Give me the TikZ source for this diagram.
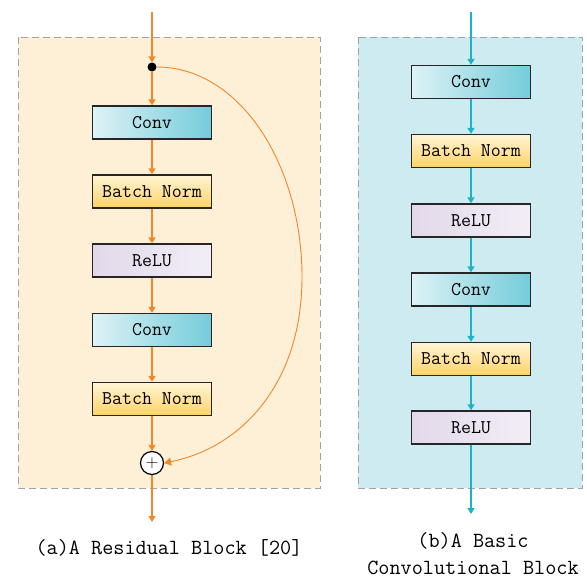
\documentclass[tikz,border=0pt]{standalone}
\usetikzlibrary{arrows.meta}
\definecolor{flowO}{HTML}{F0872A}
\definecolor{flowC}{HTML}{1CB3C6}
\definecolor{panelO}{HTML}{FDF0D6}
\definecolor{panelC}{HTML}{CDEBF1}
\definecolor{edgeG}{HTML}{A3A3A3}
\definecolor{convL}{HTML}{DDF2F6}
\definecolor{convR}{HTML}{74CCDA}
\definecolor{bnT}{HTML}{FFF5D6}
\definecolor{bnB}{HTML}{FFD265}
\definecolor{reluL}{HTML}{E2D8EA}
\definecolor{reluR}{HTML}{F2EEF6}
\tikzset{
  panel/.style={draw=edgeG, line width=1pt, dash pattern=on 7pt off 4pt},
  layer/.style={draw=black!85, line width=1.3pt, minimum width=119pt, minimum height=33pt,
                inner sep=0pt, font=\ttfamily\fontsize{19.4}{21}\selectfont},
  convbox/.style={layer, left color=convL, right color=convR},
  bnbox/.style={layer, top color=bnT, bottom color=bnB},
  relubox/.style={layer, left color=reluL, right color=reluR},
  oflow/.style={draw=flowO, line width=1.3pt, -{Triangle[width=7pt,length=6pt]}},
  cflow/.style={draw=flowC, line width=1.3pt, -{Triangle[width=7pt,length=6pt]}},
  caption/.style={font=\ttfamily\fontsize{21.6}{27}\selectfont, align=center}
}
\begin{document}
\begin{tikzpicture}[x=1pt, y=-1pt]
\useasboundingbox (0,0) rectangle (587,579);
\fill[white] (0,0) rectangle (587,579);

% panel backgrounds
\filldraw[panel, fill=panelO] (18,37) rectangle (320,488);
\filldraw[panel, fill=panelC] (358,37) rectangle (582,488);

% residual block
\coordinate (ain) at (152,12);
\node[circle, fill=black, inner sep=0pt, minimum size=9pt] (split) at (152,67) {};
\node[convbox] (a1) at (152,122.5) {Conv};
\node[bnbox] (a2) at (152,191.5) {Batch Norm};
\node[relubox] (a3) at (152,260.5) {ReLU};
\node[convbox] (a4) at (152,330) {Conv};
\node[bnbox] (a5) at (152,399) {Batch Norm};
\node[circle, draw=black, line width=1.2pt, fill=white, minimum size=23pt, inner sep=0pt,
      font=\fontsize{16}{16}\selectfont] (sum) at (152,463) {$+$};
\coordinate (aout) at (152,522);

\draw[oflow] (ain) -- (split);
\draw[oflow] (split) -- (a1);
\draw[oflow] (a1) -- (a2);
\draw[oflow] (a2) -- (a3);
\draw[oflow] (a3) -- (a4);
\draw[oflow] (a4) -- (a5);
\draw[oflow] (a5) -- (sum);
\draw[oflow] (sum) -- (aout);
\draw[draw=flowO, line width=0.9pt, -{Triangle[width=8pt,length=7pt]}]
  (split.east) .. controls (240,67) and (302,165) .. (302,277)
  .. controls (302,385) and (240,448) .. (sum.east);

\node[caption] (capa) at (169,548) {(a)A Residual Block [20]};

% basic convolutional block
\coordinate (bin) at (471,12);
\node[convbox] (b1) at (471,82) {Conv};
\node[bnbox] (b2) at (471,151) {Batch Norm};
\node[relubox] (b3) at (471,220.5) {ReLU};
\node[convbox] (b4) at (471,289.5) {Conv};
\node[bnbox] (b5) at (471,359) {Batch Norm};
\node[relubox] (b6) at (471,427.5) {ReLU};
\coordinate (bout) at (471,514);

\draw[cflow] (bin) -- (b1);
\draw[cflow] (b1) -- (b2);
\draw[cflow] (b2) -- (b3);
\draw[cflow] (b3) -- (b4);
\draw[cflow] (b4) -- (b5);
\draw[cflow] (b5) -- (b6);
\draw[cflow] (b6) -- (bout);

\node[caption] (capb) at (473,553.5) {(b)A Basic\\Convolutional Block};
\end{tikzpicture}
\end{document}
